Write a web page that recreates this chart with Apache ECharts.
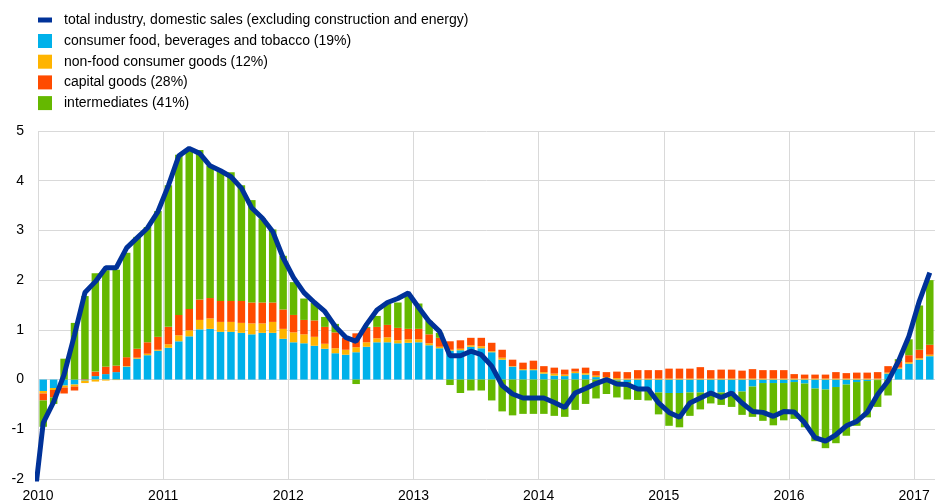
<!DOCTYPE html>
<html>
<head>
<meta charset="utf-8">
<script src="https://cdn.jsdelivr.net/npm/echarts@6/dist/echarts.min.js"></script>
<style>
  html, body { margin: 0; padding: 0; background: #fff; }
  #chart { width: 938px; height: 504px; }
</style>
</head>
<body>
<div id="chart"></div>
<script>
// monthly, Jan 2010 .. Feb 2017
let startYear = 2010;
let names = [
    "total industry, domestic sales (excluding construction and energy)",
    "consumer food, beverages and tobacco (19%)",
    "non-food consumer goods (12%)",
    "capital goods (28%)",
    "intermediates (41%)"
];

let food = [
    -0.23, -0.17, -0.12, -0.10, -0.02, 0.07, 0.11, 0.15, 0.26, 0.42, 0.49, 0.58,
    0.64, 0.77, 0.87, 1.01, 1.02, 0.96, 0.96, 0.94, 0.91, 0.94, 0.94, 0.82,
    0.75, 0.73, 0.68, 0.62, 0.53, 0.50, 0.55, 0.66, 0.75, 0.75, 0.73, 0.74,
    0.75, 0.69, 0.63, 0.58, 0.59, 0.66, 0.63, 0.55, 0.40, 0.26, 0.19, 0.19,
    0.12, 0.08, 0.07, 0.13, 0.10, 0.05, 0.02, -0.02, -0.05, -0.20, -0.22, -0.26,
    -0.27, -0.27, -0.26, -0.26, -0.26, -0.26, -0.25, -0.24, -0.14, -0.07, -0.07, -0.07,
    -0.05, -0.08, -0.18, -0.20, -0.15, -0.10, -0.05, -0.03, -0.01, 0.12, 0.22, 0.32,
    0.40, 0.47
];
let nonFood = [
    -0.05, -0.04, -0.04, -0.04, -0.05, -0.04, -0.02, -0.01, 0.01, 0.02, 0.03, 0.02,
    0.07, 0.12, 0.12, 0.19, 0.21, 0.20, 0.20, 0.20, 0.22, 0.19, 0.22, 0.20,
    0.20, 0.18, 0.18, 0.10, 0.10, 0.10, 0.10, 0.09, 0.08, 0.10, 0.06, 0.07,
    0.06, 0.04, 0.03, 0.02, 0.03, 0.03, 0.04, 0.02, 0.04, 0.01, 0.02, 0.02,
    0.03, 0.04, 0.03, 0.03, 0.03, 0.03, 0.03, 0.03, 0.02, 0.02, 0.02, 0.02,
    0.02, 0.02, 0.02, 0.02, 0.02, 0.02, 0.02, 0.02, 0.02, 0.02, 0.02, 0.02,
    0.02, 0.02, 0.02, 0.02, 0.02, 0.02, 0.02, 0.02, 0.02, 0.02, 0.02, 0.03,
    0.03, 0.03
];
let capital = [
    -0.14, -0.15, -0.12, -0.08, 0.01, 0.09, 0.15, 0.13, 0.18, 0.18, 0.23, 0.26,
    0.35, 0.41, 0.43, 0.41, 0.41, 0.42, 0.42, 0.44, 0.42, 0.42, 0.39, 0.39,
    0.35, 0.29, 0.33, 0.34, 0.32, 0.24, 0.28, 0.29, 0.23, 0.25, 0.25, 0.21,
    0.21, 0.18, 0.18, 0.17, 0.17, 0.15, 0.17, 0.17, 0.16, 0.13, 0.13, 0.17,
    0.12, 0.12, 0.10, 0.06, 0.11, 0.09, 0.10, 0.13, 0.13, 0.17, 0.17, 0.17,
    0.20, 0.20, 0.20, 0.23, 0.17, 0.18, 0.18, 0.16, 0.19, 0.17, 0.17, 0.17,
    0.09, 0.08, 0.08, 0.08, 0.13, 0.11, 0.12, 0.12, 0.13, 0.13, 0.13, 0.14,
    0.17, 0.20
];
let inter = [
    -0.53, -0.13, 0.42, 1.14, 1.67, 1.98, 1.94, 1.93, 2.10, 2.25, 2.32, 2.53,
    2.85, 3.22, 3.20, 3.01, 2.66, 2.62, 2.59, 2.33, 2.06, 1.69, 1.47, 1.08,
    0.66, 0.43, 0.35, 0.20, 0.17, 0.00, -0.09, 0.02, 0.22, 0.43, 0.51, 0.66,
    0.51, 0.27, 0.10, -0.11, -0.27, -0.22, -0.22, -0.42, -0.64, -0.72, -0.69, -0.69,
    -0.69, -0.73, -0.75, -0.61, -0.49, -0.38, -0.29, -0.34, -0.35, -0.21, -0.20, -0.44,
    -0.66, -0.69, -0.47, -0.34, -0.22, -0.25, -0.30, -0.47, -0.61, -0.76, -0.85, -0.75,
    -0.74, -0.88, -1.06, -1.18, -1.13, -1.03, -0.88, -0.73, -0.54, -0.32, 0.04, 0.32,
    0.89, 1.30
];
// total, with Dec 2009 in front (drawn only up to the left edge)
let totalPrev = -2.7;
let total = [
    -0.87, -0.45, 0.10, 0.90, 1.75, 1.97, 2.25, 2.25, 2.65, 2.85, 3.05, 3.38,
    3.90, 4.50, 4.65, 4.55, 4.30, 4.20, 4.08, 3.85, 3.45, 3.25, 2.98, 2.45,
    2.05, 1.75, 1.55, 1.37, 1.07, 0.85, 0.77, 1.11, 1.40, 1.55, 1.63, 1.74,
    1.45, 1.17, 0.97, 0.48, 0.48, 0.57, 0.50, 0.27, -0.12, -0.29, -0.37, -0.37,
    -0.37, -0.46, -0.56, -0.27, -0.18, -0.08, 0.00, -0.09, -0.10, -0.19, -0.19, -0.47,
    -0.66, -0.76, -0.47, -0.37, -0.27, -0.36, -0.27, -0.47, -0.64, -0.66, -0.74, -0.64,
    -0.65, -0.87, -1.17, -1.24, -1.11, -0.93, -0.84, -0.66, -0.30, -0.03, 0.37, 0.87,
    1.58, 2.15
];

let colors = ["#003299", "#00b1ea", "#ffb400", "#ff4b00", "#65b800"];

// month categories for the bars
let months = food.map((v, i) => (startYear + Math.floor(i / 12)) + "-" + (i % 12 + 1));

let myChar = echarts.init(document.getElementById("chart"));

function barSeries(name, arr, color){
    return {
        name: name,
        type: "bar",
        stack: "contrib",
        xAxisIndex: 0,
        barWidth: 7.5,
        itemStyle: { color: color },
        data: arr
    };
}

// line on the month-number axis so the Dec 2009 point can run off the left edge
let lineData = [[-0.5, totalPrev]].concat(total.map((v, i) => [i + 0.5, v]));

myChar.setOption({
    animation: false,
    textStyle: { fontFamily: "Liberation Sans, Arial, sans-serif" },
    legend: [
        {
            data: [{ name: names[0], icon: "rect" }],
            left: 33,
            top: 8,
            itemWidth: 14,
            itemHeight: 5,
            textStyle: { fontSize: 14, color: "#000", padding: [0, 0, 0, 7] }
        },
        {
            data: names.slice(1).map(n => ({ name: n, icon: "rect" })),
            orient: "vertical",
            left: 33,
            top: 29,
            itemWidth: 14,
            itemHeight: 14,
            itemGap: 6.7,
            textStyle: { fontSize: 14, color: "#000", padding: [0, 0, 0, 7] }
        }
    ],
    grid: {
        left: 38,
        width: 903,
        top: 131,
        bottom: 25,
        containLabel: false
    },
    xAxis: [
        {
            type: "category",
            data: months,
            boundaryGap: true,
            show: false
        },
        {
            type: "value",
            min: 0,
            max: 86,
            interval: 12,
            position: "bottom",
            axisLine: { show: false },
            axisTick: { show: false },
            axisLabel: {
                fontSize: 14,
                color: "#000",
                margin: 10,
                formatter: v => (v % 12 === 0 ? String(startYear + v / 12) : "")
            },
            splitLine: {
                show: true,
                showMaxLine: false,
                lineStyle: { color: "#d9d9d9", width: 1 }
            }
        }
    ],
    yAxis: {
        type: "value",
        min: -2,
        max: 5,
        interval: 1,
        axisLine: { show: false },
        axisTick: { show: false },
        axisLabel: { fontSize: 14, color: "#000", margin: 14 },
        splitLine: { lineStyle: { color: "#d9d9d9", width: 1 } }
    },
    series: [
        barSeries(names[1], food, colors[1]),
        barSeries(names[2], nonFood, colors[2]),
        barSeries(names[3], capital, colors[3]),
        barSeries(names[4], inter, colors[4]),
        {
            name: names[0],
            type: "line",
            xAxisIndex: 1,
            data: lineData,
            symbol: "none",
            clip: true,
            z: 5,
            itemStyle: { color: colors[0] },
            lineStyle: { color: colors[0], width: 5 }
        }
    ]
});
</script>
</body>
</html>
